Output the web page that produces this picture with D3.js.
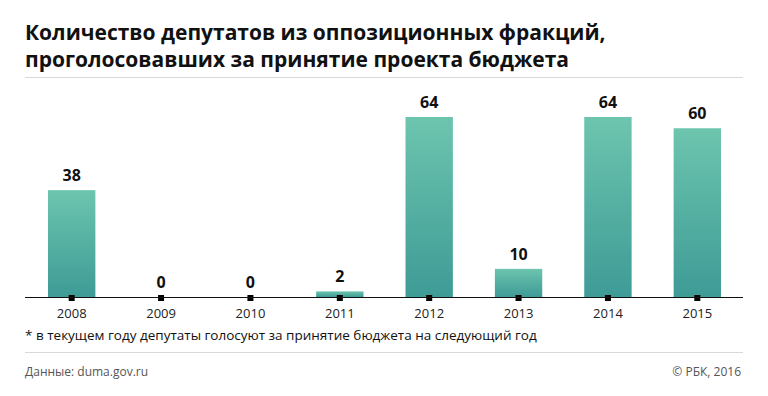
<!DOCTYPE html>
<html>
<head>
<meta charset="utf-8">
<script src="https://cdn.jsdelivr.net/npm/d3@7"></script>
<style>
  body { margin: 0; background: #fff; }
  text { font-family: "Open Sans", sans-serif; }
</style>
</head>
<body>
<div id="chart"></div>
<script>
var years = ["2008", "2009", "2010", "2011", "2012", "2013", "2014", "2015"];
var deputies = [38, 0, 0, 2, 64, 10, 64, 60];
var titleLines = ["Количество депутатов из оппозиционных фракций,",
                  "проголосовавших за принятие проекта бюджета"];

var width = 768, height = 396;
var baseY = 297;

var svg = d3.select("#chart").append("svg")
    .attr("width", width)
    .attr("height", height);

// gradient for bars
var grad = svg.append("defs").append("linearGradient")
    .attr("id", "barGrad")
    .attr("x1", 0).attr("y1", 0).attr("x2", 0).attr("y2", 1);
grad.append("stop").attr("offset", "0%").attr("stop-color", "#6dc5ae");
grad.append("stop").attr("offset", "100%").attr("stop-color", "#3e9b96");

// title
svg.selectAll("text.title")
    .data(titleLines)
    .enter().append("text")
    .attr("class", "title")
    .attr("x", 25)
    .attr("y", function(d, i) { return 40 + i * 27; })
    .attr("font-size", 21)
    .attr("font-weight", 700)
    .attr("fill", "#111")
    .text(function(d) { return d; });

svg.append("line")
    .attr("x1", 25).attr("x2", 743)
    .attr("y1", 77.5).attr("y2", 77.5)
    .attr("stroke", "#d9d9d9");

var x = d3.scaleBand()
    .domain(years)
    .range([27, 742])
    .paddingInner(0.47)
    .paddingOuter(0.235);

var y = d3.scaleLinear()
    .domain([0, 64])
    .range([baseY, 117]);

// bars
svg.selectAll("rect.bar")
    .data(deputies)
    .enter().append("rect")
    .attr("class", "bar")
    .attr("x", function(d, i) { return x(years[i]); })
    .attr("width", x.bandwidth())
    .attr("y", function(d) { return y(d); })
    .attr("height", function(d) { return baseY - y(d); })
    .attr("fill", "url(#barGrad)");

// value labels
svg.selectAll("text.val")
    .data(deputies)
    .enter().append("text")
    .attr("class", "val")
    .attr("x", function(d, i) { return x(years[i]) + x.bandwidth() / 2; })
    .attr("y", function(d) { return y(d) - 9; })
    .attr("text-anchor", "middle")
    .attr("font-size", 16)
    .attr("font-weight", 700)
    .attr("fill", "#111")
    .text(function(d) { return d; });

// axis
var axis = svg.append("g")
    .attr("transform", "translate(0," + baseY + ")")
    .call(d3.axisBottom(x).tickSize(0).tickPadding(0));
axis.select(".domain").remove();
axis.append("line")
    .attr("x1", 25).attr("x2", 743)
    .attr("y1", 0.5).attr("y2", 0.5)
    .attr("stroke", "#111");
axis.selectAll(".tick").append("rect")
    .attr("x", -3).attr("y", -2)
    .attr("width", 6).attr("height", 6)
    .attr("fill", "#000");
axis.selectAll(".tick text")
    .attr("y", 21)
    .attr("dy", 0)
    .attr("font-family", "Open Sans, sans-serif")
    .attr("font-size", 13)
    .attr("fill", "#222");

// footnote
svg.append("text")
    .attr("x", 25).attr("y", 340)
    .attr("font-size", 13.5)
    .attr("fill", "#111")
    .text("* в текущем году депутаты голосуют за принятие бюджета на следующий год");

svg.append("line")
    .attr("x1", 25).attr("x2", 743)
    .attr("y1", 352.5).attr("y2", 352.5)
    .attr("stroke", "#d9d9d9");

svg.append("text")
    .attr("x", 25).attr("y", 376)
    .attr("font-size", 12)
    .attr("fill", "#555")
    .text("Данные: duma.gov.ru");

svg.append("text")
    .attr("x", 741).attr("y", 376)
    .attr("text-anchor", "end")
    .attr("font-size", 12)
    .attr("fill", "#555")
    .text("© РБК, 2016");
</script>
</body>
</html>
